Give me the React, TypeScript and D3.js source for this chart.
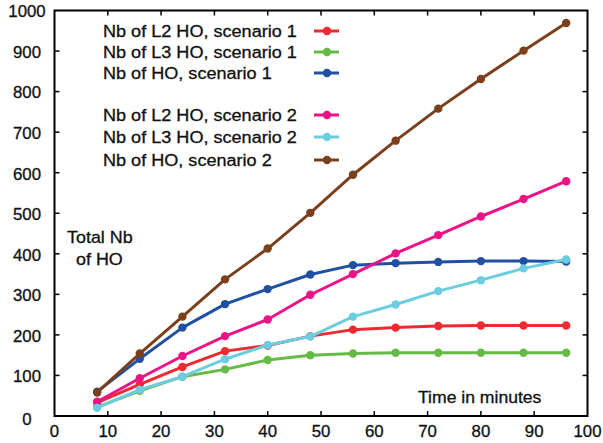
import React from "react";
import * as d3 from "d3";

const times = [8, 16, 24, 32, 40, 48, 56, 64, 72, 80, 88, 96];
const l2s1 = [33, 78, 121, 160, 174, 197, 213, 218, 222, 223, 223, 223];
const l3s1 = [22, 62, 97, 115, 138, 150, 154, 156, 156, 156, 156, 156];
const hos1 = [60, 141, 218, 276, 313, 349, 372, 377, 380, 382, 382, 381];
const l2s2 = [35, 93, 148, 197, 238, 299, 350, 401, 446, 492, 535, 579];
const l3s2 = [20, 65, 97, 140, 175, 196, 245, 275, 308, 335, 364, 386];
const hos2 = [58, 154, 245, 337, 413, 501, 595, 679, 758, 831, 901, 969];

const seriesNames = [
  "Nb of L2 HO, scenario 1",
  "Nb of L3 HO, scenario 1",
  "Nb of HO, scenario 1",
  "Nb of L2 HO, scenario 2",
  "Nb of L3 HO, scenario 2",
  "Nb of HO, scenario 2",
];
const seriesValues = [l2s1, l3s1, hos1, l2s2, l3s2, hos2];
const seriesColors = ["#ee2a30", "#66bb47", "#2050a2", "#ec1386", "#6ccde0", "#7a401c"];
const legendRows = [31, 52, 73, 115, 137, 160];

const xTicks = [0, 10, 20, 30, 40, 50, 60, 70, 80, 90, 100];
const yTicks = [0, 100, 200, 300, 400, 500, 600, 700, 800, 900, 1000];

const FONT = "'Liberation Sans', Arial, sans-serif";

function SText({ x, y, sx = 1, anchor = "start", size = 16, children }: any) {
  return (
    <text
      transform={`translate(${x},${y}) scale(${sx},1)`}
      textAnchor={anchor}
      dominantBaseline="central"
      fontFamily={FONT}
      fontSize={size}
      fill="#111"
      stroke="#111"
      strokeWidth={0.3}
    >
      {children}
    </text>
  );
}

export default function App() {
  const W = 603, H = 443;
  const x = d3.scaleLinear().domain([0, 100]).range([54.5, 587.5]);
  const y = d3.scaleLinear().domain([0, 1000]).range([416, 10.5]);
  const line = d3
    .line<[number, number]>()
    .x((d) => x(d[0]))
    .y((d) => y(d[1]));

  return (
    <svg
      width={W}
      height={H}
      style={{ position: "absolute", left: 0, top: 0, background: "#fff" }}
    >
      <rect x={0} y={0} width={W} height={H} fill="#fff" />
      {/* series */}
      {seriesValues.map((vals, i) => {
        const pts: [number, number][] = times.map((t, j) => [t, vals[j]]);
        return (
          <g key={i}>
            <path d={line(pts) || ""} fill="none" stroke={seriesColors[i]} strokeWidth={3} strokeLinejoin="round" />
            {pts.map((p, j) => (
              <circle key={j} cx={x(p[0])} cy={y(p[1])} r={4.2} fill={seriesColors[i]} />
            ))}
          </g>
        );
      })}
      {/* frame */}
      <rect
        x={x(0)}
        y={y(1000)}
        width={x(100) - x(0)}
        height={y(0) - y(1000)}
        fill="none"
        stroke="#000"
        strokeWidth={2}
      />
      {xTicks.slice(1, -1).map((t) => (
        <g key={t}>
          <line x1={x(t)} x2={x(t)} y1={y(0)} y2={y(0) - 5} stroke="#000" strokeWidth={1.5} />
          <line x1={x(t)} x2={x(t)} y1={y(1000)} y2={y(1000) + 5} stroke="#000" strokeWidth={1.5} />
        </g>
      ))}
      {yTicks.slice(1, -1).map((v) => (
        <g key={v}>
          <line x1={x(0)} x2={x(0) + 5} y1={y(v)} y2={y(v)} stroke="#000" strokeWidth={1.5} />
          <line x1={x(100)} x2={x(100) - 5} y1={y(v)} y2={y(v)} stroke="#000" strokeWidth={1.5} />
        </g>
      ))}
      {xTicks.map((t) => (
        <SText key={t} x={x(t)} y={431} anchor="middle" sx={1.05}>
          {String(t)}
        </SText>
      ))}
      {yTicks.map((v) => (
        <SText key={v} x={27} y={y(v) + (v === 0 ? 3 : 1)} anchor="middle" sx={1.05}>
          {String(v)}
        </SText>
      ))}
      {/* legend */}
      {seriesNames.map((name, i) => (
        <g key={name}>
          <SText x={103} y={legendRows[i] + 1} sx={1.13}>
            {name}
          </SText>
          <line x1={314} x2={339} y1={legendRows[i]} y2={legendRows[i]} stroke={seriesColors[i]} strokeWidth={3} />
          <circle cx={327} cy={legendRows[i]} r={4.2} fill={seriesColors[i]} />
        </g>
      ))}
      <SText x={67} y={238} sx={1.12}>Total Nb</SText>
      <SText x={76} y={260} sx={1.12}>of HO</SText>
      <SText x={418} y={398} sx={1.1}>Time in minutes</SText>
    </svg>
  );
}
